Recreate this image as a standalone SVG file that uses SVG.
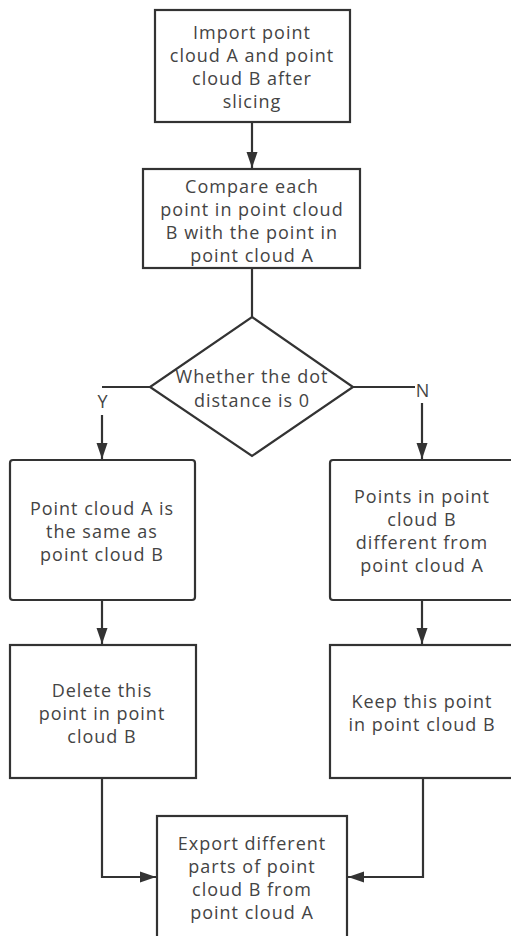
<svg xmlns="http://www.w3.org/2000/svg" width="511" height="936" viewBox="0 0 511 936">
<style>
.box{fill:#fff;stroke:#333;stroke-width:2.2}
.t{font-family:"Open Sans","Noto Sans",sans-serif;font-size:18px;letter-spacing:1px;fill:#444;text-anchor:middle}
.c{fill:none;stroke:#333;stroke-width:2.2}
</style>
<defs>
<marker id="ah" viewBox="0 0 16 12" refX="16" refY="6" markerWidth="16" markerHeight="12" markerUnits="userSpaceOnUse" orient="auto">
<path d="M0,0.5 L16,6 L0,11.5 Z" fill="#333"/>
</marker>
</defs>
<rect width="511" height="936" fill="#fff"/>
<g id="connectors">
<path class="c" d="M252,122 V168" marker-end="url(#ah)"/>
<path class="c" d="M252,268 V317"/>
<path class="c" d="M150,387 H102"/>
<path class="c" d="M102,415 V459" marker-end="url(#ah)"/>
<path class="c" d="M353,387 H415"/>
<path class="c" d="M422,403 V459" marker-end="url(#ah)"/>
<path class="c" d="M102,600 V644" marker-end="url(#ah)"/>
<path class="c" d="M422,600 V644" marker-end="url(#ah)"/>
<path class="c" d="M102,778 V877 H156" marker-end="url(#ah)"/>
<path class="c" d="M423,778 V877 H348" marker-end="url(#ah)"/>
<text class="t" x="103" y="408">Y</text>
<text class="t" x="423" y="397">N</text>
</g>
<g id="n1">
<rect class="box" x="155" y="10" width="195" height="112"/>
<text class="t" x="252" y="39">Import point</text>
<text class="t" x="252" y="62">cloud A and point</text>
<text class="t" x="252" y="85">cloud B after</text>
<text class="t" x="252" y="108">slicing</text>
</g>
<g id="n2">
<rect class="box" x="143" y="169" width="217" height="99"/>
<text class="t" x="252" y="193">Compare each</text>
<text class="t" x="252" y="216">point in point cloud</text>
<text class="t" x="252" y="239">B with the point in</text>
<text class="t" x="252" y="262">point cloud A</text>
</g>
<g id="n3">
<polygon class="box" points="252,317 353,387 252,456 150,387"/>
<text class="t" x="252" y="383">Whether the dot</text>
<text class="t" x="252" y="407">distance is 0</text>
</g>
<g id="n4">
<rect class="box" x="10" y="460" width="185" height="140" rx="3"/>
<text class="t" x="102" y="515">Point cloud A is</text>
<text class="t" x="102" y="538">the same as</text>
<text class="t" x="102" y="561">point cloud B</text>
</g>
<g id="n5">
<rect class="box" x="330" y="460" width="190" height="140" rx="3"/>
<text class="t" x="422" y="503">Points in point</text>
<text class="t" x="422" y="526">cloud B</text>
<text class="t" x="422" y="549">different from</text>
<text class="t" x="422" y="572">point cloud A</text>
</g>
<g id="n6">
<rect class="box" x="10" y="645" width="186" height="133"/>
<text class="t" x="102" y="697">Delete this</text>
<text class="t" x="102" y="720">point in point</text>
<text class="t" x="102" y="743">cloud B</text>
</g>
<g id="n7">
<rect class="box" x="330" y="645" width="190" height="133"/>
<text class="t" x="422" y="708">Keep this point</text>
<text class="t" x="422" y="731">in point cloud B</text>
</g>
<g id="n8">
<rect class="box" x="157" y="816" width="190" height="122"/>
<text class="t" x="252" y="850">Export different</text>
<text class="t" x="252" y="873">parts of point</text>
<text class="t" x="252" y="896">cloud B from</text>
<text class="t" x="252" y="919">point cloud A</text>
</g>
</svg>
